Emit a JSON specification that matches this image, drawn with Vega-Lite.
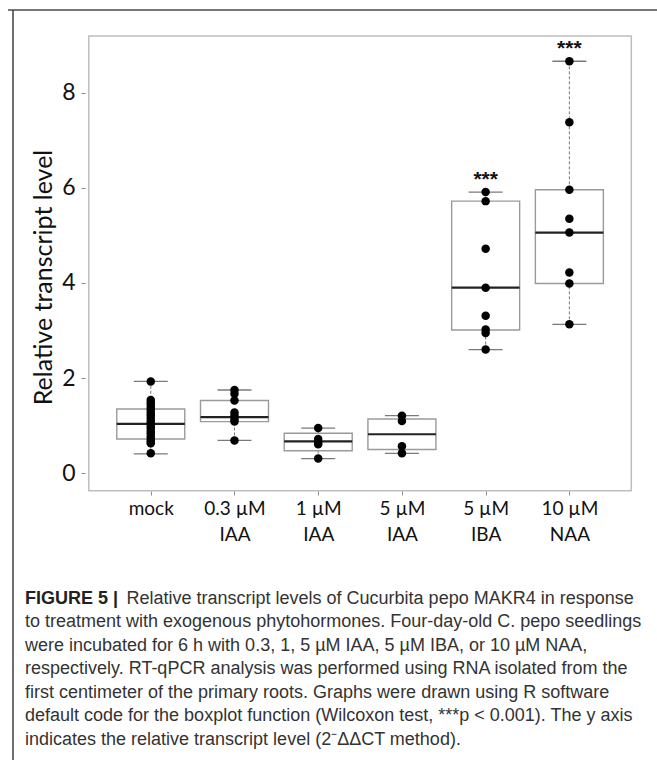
{
  "$schema": "https://vega.github.io/schema/vega-lite/v6.json",
  "autosize": {"type": "none"},
  "padding": {"left": 8, "top": 10, "right": 0, "bottom": 0},
  "width": 649,
  "height": 750,
  "background": "white",
  "config": {"view": {"stroke": null}},
  "title": {
    "text": "FIGURE 5 |",
    "subtitle": [
      "to treatment with exogenous phytohormones. Four-day-old C. pepo seedlings",
      "were incubated for 6 h with 0.3, 1, 5 µM IAA, 5 µM IBA, or 10 µM NAA,",
      "respectively. RT-qPCR analysis was performed using RNA isolated from the",
      "first centimeter of the primary roots. Graphs were drawn using R software",
      "default code for the boxplot function (Wilcoxon test, ***p < 0.001). The y axis",
      "indicates the relative transcript level (2⁻ΔΔCT method)."
    ],
    "orient": "bottom",
    "anchor": "start",
    "frame": "group",
    "offset": -171,
    "dx": 17,
    "font": "Liberation Sans",
    "fontSize": 18,
    "fontWeight": "bold",
    "color": "#222222",
    "subtitleFont": "Liberation Sans",
    "subtitleFontSize": 18,
    "subtitleFontWeight": "normal",
    "subtitleColor": "#333333",
    "subtitleLineHeight": 23.5,
    "subtitlePadding": 5.5
  },
  "datasets": {
    "points": [
      {"treatment": "mock", "value": 1.93},
      {"treatment": "mock", "value": 1.54},
      {"treatment": "mock", "value": 1.49},
      {"treatment": "mock", "value": 1.44},
      {"treatment": "mock", "value": 1.38},
      {"treatment": "mock", "value": 1.33},
      {"treatment": "mock", "value": 1.27},
      {"treatment": "mock", "value": 1.22},
      {"treatment": "mock", "value": 1.16},
      {"treatment": "mock", "value": 1.10},
      {"treatment": "mock", "value": 1.05},
      {"treatment": "mock", "value": 1.00},
      {"treatment": "mock", "value": 0.95},
      {"treatment": "mock", "value": 0.89},
      {"treatment": "mock", "value": 0.84},
      {"treatment": "mock", "value": 0.78},
      {"treatment": "mock", "value": 0.72},
      {"treatment": "mock", "value": 0.67},
      {"treatment": "mock", "value": 0.63},
      {"treatment": "mock", "value": 0.42},
      {"treatment": "0.3 µM IAA", "value": 1.75},
      {"treatment": "0.3 µM IAA", "value": 1.67},
      {"treatment": "0.3 µM IAA", "value": 1.53},
      {"treatment": "0.3 µM IAA", "value": 1.28},
      {"treatment": "0.3 µM IAA", "value": 1.21},
      {"treatment": "0.3 µM IAA", "value": 1.14},
      {"treatment": "0.3 µM IAA", "value": 1.09},
      {"treatment": "0.3 µM IAA", "value": 0.69},
      {"treatment": "1 µM IAA", "value": 0.95},
      {"treatment": "1 µM IAA", "value": 0.72},
      {"treatment": "1 µM IAA", "value": 0.66},
      {"treatment": "1 µM IAA", "value": 0.61},
      {"treatment": "1 µM IAA", "value": 0.31},
      {"treatment": "5 µM IAA", "value": 1.21},
      {"treatment": "5 µM IAA", "value": 1.10},
      {"treatment": "5 µM IAA", "value": 0.57},
      {"treatment": "5 µM IAA", "value": 0.42},
      {"treatment": "5 µM IBA", "value": 5.91},
      {"treatment": "5 µM IBA", "value": 5.72},
      {"treatment": "5 µM IBA", "value": 4.72},
      {"treatment": "5 µM IBA", "value": 3.90},
      {"treatment": "5 µM IBA", "value": 3.31},
      {"treatment": "5 µM IBA", "value": 3.02},
      {"treatment": "5 µM IBA", "value": 2.95},
      {"treatment": "5 µM IBA", "value": 2.60},
      {"treatment": "10 µM NAA", "value": 8.66},
      {"treatment": "10 µM NAA", "value": 7.38},
      {"treatment": "10 µM NAA", "value": 5.96},
      {"treatment": "10 µM NAA", "value": 5.35},
      {"treatment": "10 µM NAA", "value": 5.06},
      {"treatment": "10 µM NAA", "value": 4.22},
      {"treatment": "10 µM NAA", "value": 3.99},
      {"treatment": "10 µM NAA", "value": 3.13}
    ],
    "stats": [
      {"treatment": "mock", "lo": 0.41, "q1": 0.72, "med": 1.04, "q3": 1.35, "hi": 1.93, "sig": ""},
      {"treatment": "0.3 µM IAA", "lo": 0.69, "q1": 1.085, "med": 1.18, "q3": 1.53, "hi": 1.75, "sig": ""},
      {"treatment": "1 µM IAA", "lo": 0.31, "q1": 0.475, "med": 0.67, "q3": 0.84, "hi": 0.95, "sig": ""},
      {"treatment": "5 µM IAA", "lo": 0.42, "q1": 0.50, "med": 0.82, "q3": 1.14, "hi": 1.21, "sig": ""},
      {"treatment": "5 µM IBA", "lo": 2.60, "q1": 3.01, "med": 3.90, "q3": 5.72, "hi": 5.91, "sig": "***"},
      {"treatment": "10 µM NAA", "lo": 3.13, "q1": 3.99, "med": 5.06, "q3": 5.96, "hi": 8.66, "sig": "***"}
    ]
  },
  "layer": [
    {
      "data": {"name": "points"},
      "transform": [{"calculate": "indexof(['mock','0.3 µM IAA','1 µM IAA','5 µM IAA','5 µM IBA','10 µM NAA'], datum.treatment) + 1", "as": "idx"}],
      "mark": {"type": "circle", "size": 0, "opacity": 0},
      "encoding": {
        "x": {
          "field": "idx", "type": "quantitative",
          "scale": {"domain": [-0.6456, 6.987], "nice": false, "zero": false},
          "axis": {
            "title": "Relative transcript levels of Cucurbita pepo MAKR4 in response",
            "titleX": 118,
            "titleY": 98,
            "titleAlign": "left",
            "titleBaseline": "top",
            "titleFont": "Liberation Sans",
            "titleFontSize": 18,
            "titleFontWeight": "normal",
            "titleColor": "#333333",
            "titleLimit": 1000,
            "values": [1, 2, 3, 4, 5, 6],
            "labelExpr": "[ '', 'mock', ['0.3 µM', 'IAA'], ['1 µM', 'IAA'], ['5 µM', 'IAA'], ['5 µM', 'IBA'], ['10 µM', 'NAA'] ][datum.value]",
            "offset": -269,
            "domain": false,
            "grid": false,
            "tickSize": 4,
            "tickColor": "#8a8a8a",
            "labelFont": "Lato",
            "labelFontSize": 19,
            "labelColor": "#111111",
            "labelPadding": 4,
            "labelLineHeight": 26,
            "labelFlush": false,
            "labelOverlap": false,
            "labelBound": false
          }
        },
        "y": {
          "field": "value", "type": "quantitative",
          "scale": {"domain": [-6.026, 9.737], "nice": false, "zero": false},
          "axis": {
            "title": "Relative transcript level",
            "values": [0, 2, 4, 6, 8],
            "offset": -77,
            "domain": false,
            "grid": false,
            "tickSize": 4,
            "tickColor": "#8a8a8a",
            "labelFont": "Lato",
            "labelFontSize": 23,
            "labelColor": "#111111",
            "labelPadding": 6,
            "labelFlush": false,
            "labelOverlap": false,
            "titleFont": "Lato",
            "titleFontSize": 25,
            "titleFontWeight": "normal",
            "titleColor": "#111111",
            "titleX": -42,
            "titleY": 267,
            "titleBaseline": "middle",
            "titleLimit": 1000
          }
        }
      }
    },
    {
      "data": {"values": [{}]},
      "mark": {"type": "rule", "color": "#4a4a4a", "strokeWidth": 1.6},
      "encoding": {
        "y": {"datum": 9.737, "type": "quantitative"}
      }
    },
    {
      "data": {"values": [{}]},
      "mark": {"type": "rule", "color": "#4a4a4a", "strokeWidth": 1.6},
      "encoding": {
        "x": {"datum": -0.6456, "type": "quantitative"}
      }
    },
    {
      "data": {"values": [{}]},
      "mark": {"type": "rect", "fillOpacity": 0, "stroke": "#bdbdbd", "strokeWidth": 1.5},
      "encoding": {
        "x": {"datum": 0.26, "type": "quantitative"},
        "x2": {"datum": 6.74},
        "y": {"datum": -0.366, "type": "quantitative"},
        "y2": {"datum": 9.191}
      }
    },
    {
      "data": {"name": "stats"},
      "transform": [{"calculate": "indexof(['mock','0.3 µM IAA','1 µM IAA','5 µM IAA','5 µM IBA','10 µM NAA'], datum.treatment) + 1", "as": "idx"}],
      "mark": {"type": "rule", "color": "#777777", "strokeWidth": 1, "strokeDash": [3, 2]},
      "encoding": {
        "x": {"field": "idx", "type": "quantitative"},
        "y": {"field": "lo", "type": "quantitative"},
        "y2": {"field": "hi"}
      }
    },
    {
      "data": {"name": "stats"},
      "transform": [{"calculate": "indexof(['mock','0.3 µM IAA','1 µM IAA','5 µM IAA','5 µM IBA','10 µM NAA'], datum.treatment) + 1", "as": "idx"}],
      "mark": {"type": "bar", "size": 68, "fill": "white", "stroke": "#9a9a9a", "strokeWidth": 1.4},
      "encoding": {
        "x": {"field": "idx", "type": "quantitative"},
        "y": {"field": "q1", "type": "quantitative"},
        "y2": {"field": "q3"}
      }
    },
    {
      "data": {"name": "stats"},
      "transform": [
        {"calculate": "indexof(['mock','0.3 µM IAA','1 µM IAA','5 µM IAA','5 µM IBA','10 µM NAA'], datum.treatment) + 1", "as": "idx"},
        {"fold": ["lo", "hi"], "as": ["end", "endValue"]}
      ],
      "mark": {"type": "tick", "orient": "horizontal", "size": 34, "thickness": 1.3, "color": "#7a7a7a", "opacity": 1},
      "encoding": {
        "x": {"field": "idx", "type": "quantitative"},
        "y": {"field": "endValue", "type": "quantitative"}
      }
    },
    {
      "data": {"name": "stats"},
      "transform": [{"calculate": "indexof(['mock','0.3 µM IAA','1 µM IAA','5 µM IAA','5 µM IBA','10 µM NAA'], datum.treatment) + 1", "as": "idx"}],
      "mark": {"type": "tick", "orient": "horizontal", "size": 68, "thickness": 2.2, "color": "#222222", "opacity": 1},
      "encoding": {
        "x": {"field": "idx", "type": "quantitative"},
        "y": {"field": "med", "type": "quantitative"}
      }
    },
    {
      "data": {"name": "points"},
      "transform": [{"calculate": "indexof(['mock','0.3 µM IAA','1 µM IAA','5 µM IAA','5 µM IBA','10 µM NAA'], datum.treatment) + 1", "as": "idx"}],
      "mark": {"type": "circle", "size": 72, "color": "black", "opacity": 1},
      "encoding": {
        "x": {"field": "idx", "type": "quantitative"},
        "y": {"field": "value", "type": "quantitative"}
      }
    },
    {
      "data": {"name": "stats"},
      "transform": [{"calculate": "indexof(['mock','0.3 µM IAA','1 µM IAA','5 µM IAA','5 µM IBA','10 µM NAA'], datum.treatment) + 1", "as": "idx"}],
      "mark": {"type": "text", "font": "Liberation Sans", "fontSize": 21, "fontWeight": "bold", "dy": -6, "baseline": "alphabetic", "color": "#111111"},
      "encoding": {
        "x": {"field": "idx", "type": "quantitative"},
        "y": {"field": "hi", "type": "quantitative"},
        "text": {"field": "sig"}
      }
    }
  ]
}
